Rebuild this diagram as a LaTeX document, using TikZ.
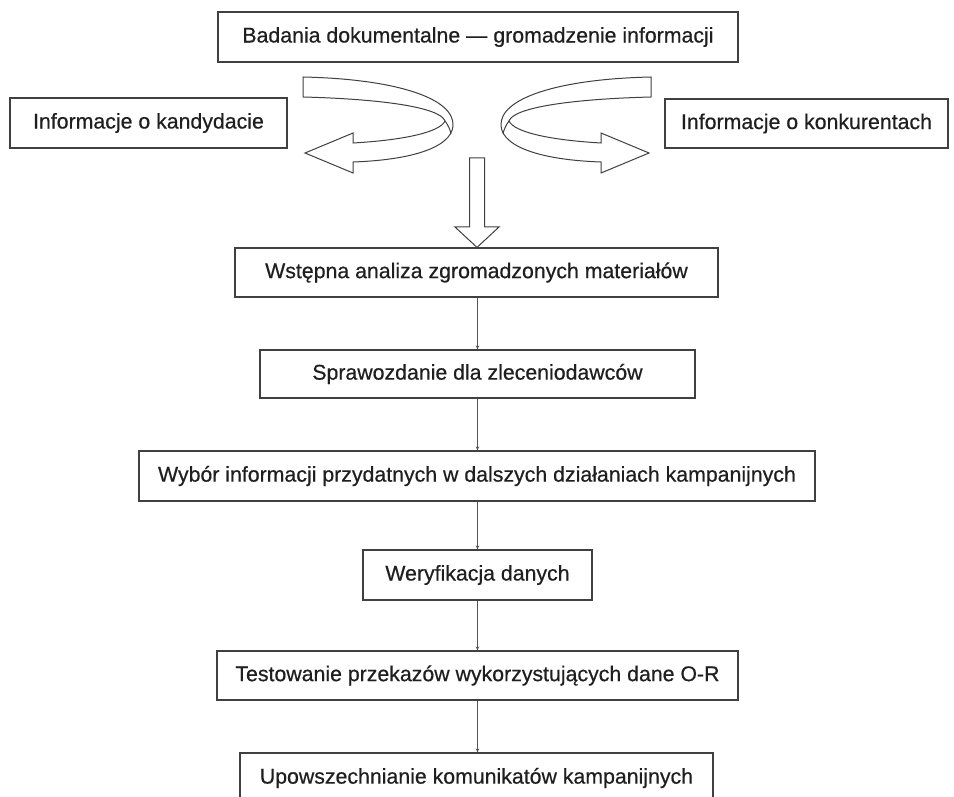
\documentclass[tikz,border=0pt]{standalone}
\usepackage{fontspec}
\setmainfont{Liberation Sans}
\newfontfamily\boxfont{Liberation Sans}[FakeBold=0.5]
\usetikzlibrary{arrows.meta}
\definecolor{edge}{gray}{0.25}
\definecolor{link}{gray}{0.33}
\tikzset{
  box/.style={draw=edge, line width=1.2pt, fill=white, inner sep=0pt,
    font=\boxfont\fontsize{21.3}{25}\selectfont, text=black!88},
  link/.style={draw=link, line width=1.5pt, -{Stealth[length=4pt,width=3.5pt]}},
  blockarrow/.style={draw=edge, line width=1pt, fill=white, line join=miter},
}
\begin{document}
\begin{tikzpicture}[x=1pt, y=-1pt]
\clip (0,0) rectangle (954,797);
\fill[white] (0,0) rectangle (954,797);

% boxes
\node[box, minimum width=520pt, minimum height=50pt] (top)  at (478,37)    {Badania dokumentalne — gromadzenie informacji};
\node[box, minimum width=277pt, minimum height=50pt] (kand) at (148.5,123) {Informacje o kandydacie};
\node[box, minimum width=283pt, minimum height=49pt] (konk) at (806.5,123.5) {Informacje o konkurentach};
\node[box, minimum width=483pt, minimum height=49pt] (wst)  at (476.5,272.5) {Wstępna analiza zgromadzonych materiałów};
\node[box, minimum width=435pt, minimum height=48pt] (spr)  at (477.5,374) {Sprawozdanie dla zleceniodawców};
\node[box, minimum width=676pt, minimum height=50pt] (wyb)  at (477,476)   {Wybór informacji przydatnych w dalszych działaniach kampanijnych};
\node[box, minimum width=229pt, minimum height=50pt] (wer)  at (477.5,575) {Weryfikacja danych};
\node[box, minimum width=521pt, minimum height=49pt] (tes)  at (477.5,675.5) {Testowanie przekazów wykorzystujących dane O-R};
\node[box, minimum width=473pt, minimum height=50pt] (upo)  at (476.5,778) {Upowszechnianie komunikatów kampanijnych};

% connectors between stages
\draw[link] (wst.south -| 477.5,0) -- (spr.north -| 477.5,0);
\draw[link] (spr.south -| 477.5,0) -- (wyb.north -| 477.5,0);
\draw[link] (wyb.south -| 477.5,0) -- (wer.north -| 477.5,0);
\draw[link] (wer.south -| 477.5,0) -- (tes.north -| 477.5,0);
\draw[link] (tes.south -| 477.5,0) -- (upo.north -| 477.5,0);

% curled ribbon arrow to the left
\draw[blockarrow]
  (303,77) .. controls (395,79) and (455,98) .. (453,126)
  .. controls (451,148) and (410,160) .. (353,162)
  -- (353,173) -- (305,153) -- (353,133) -- (353,143)
  .. controls (405,140) and (440,132) .. (445,121)
  .. controls (440,107) and (380,99) .. (303,97) -- cycle;
\draw[edge, line width=1pt] (445,121) .. controls (448,125) and (450,129) .. (451,134);

% curled ribbon arrow to the right (mirror image)
\begin{scope}[xshift=954pt, x=-1pt]
\draw[blockarrow]
  (303,77) .. controls (395,79) and (455,98) .. (453,126)
  .. controls (451,148) and (410,160) .. (353,162)
  -- (353,173) -- (305,153) -- (353,133) -- (353,143)
  .. controls (405,140) and (440,132) .. (445,121)
  .. controls (440,107) and (380,99) .. (303,97) -- cycle;
\draw[edge, line width=1pt] (445,121) .. controls (448,125) and (450,129) .. (451,134);
\end{scope}

% wide downward arrow into the analysis stage
\coordinate (tip) at (wst.north -| 477,0);
\draw[blockarrow]
  (469.5,158) -- (484.5,158) -- (484.5,227) -- (499,227) -- (tip)
  -- (455,227) -- (469.5,227) -- cycle;
\end{tikzpicture}
\end{document}
